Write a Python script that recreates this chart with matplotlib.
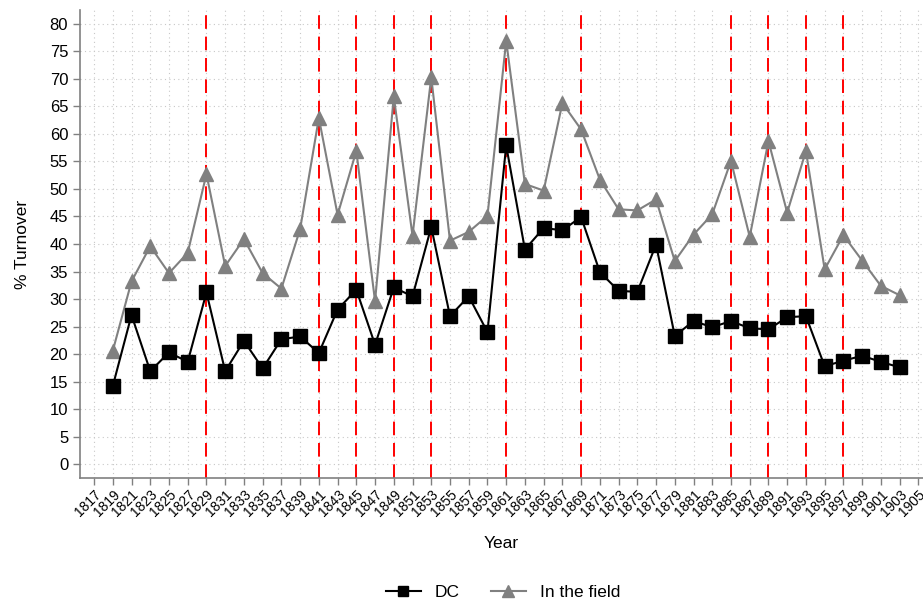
import numpy as np
import matplotlib
matplotlib.use("Agg")
import matplotlib.pyplot as plt

plt.rcParams['font.family'] = ['Liberation Sans', 'DejaVu Sans']

# turnover by election year
years = list(range(1819, 1904, 2))
dc = [14.2, 27.1, 16.9, 20.3, 18.6, 31.2, 16.9, 22.4, 17.4, 22.7,
      23.2, 20.2, 28.1, 31.7, 21.7, 32.1, 30.5, 43.1, 26.9, 30.5,
      24.0, 57.9, 39.0, 42.9, 42.5, 44.9, 34.9, 31.5, 31.3, 39.9,
      23.3, 26.0, 24.9, 26.0, 24.7, 24.5, 26.7, 26.9, 17.8, 18.8,
      19.7, 18.6, 17.6]
field = [20.6, 33.2, 39.6, 34.7, 38.4, 52.7, 36.0, 40.9, 34.7, 31.9,
         42.7, 62.9, 45.3, 56.9, 29.6, 66.8, 41.5, 70.3, 40.6, 42.2,
         45.1, 76.9, 50.9, 49.7, 65.6, 60.8, 51.7, 46.3, 46.1, 48.1,
         36.9, 41.7, 45.4, 55.1, 41.3, 58.7, 45.7, 56.9, 35.4, 41.6,
         37.0, 32.4, 30.7]
marked_years = [1829, 1841, 1845, 1849, 1853, 1861, 1869, 1885, 1889, 1893, 1897]

xticks = list(range(1817, 1906, 2))
yticks = list(range(0, 81, 5))

fig = plt.figure(figsize=(9.23, 6.02), dpi=100)
ax = fig.add_axes([80/923, 1 - 478/602, 843/923, 468/602])

for yr in marked_years:
    ax.axvline(yr, color='red', lw=1.4, dashes=(7, 4), zorder=1)

ax.plot(years, dc, color='black', lw=1.5, marker='s', ms=9.5,
        label='DC', zorder=3)
ax.plot(years, field, color='#808080', lw=1.5, marker='^', ms=10,
        label='In the field', zorder=2)

ax.set_xlim(1815.5, 1905.5)
ax.set_ylim(-2.5, 82.5)
ax.set_xticks(xticks)
ax.set_xticklabels([str(x) for x in xticks], rotation=45, ha='right',
                   rotation_mode='anchor', fontsize=10)
ax.set_yticks(yticks)
ax.set_yticklabels([str(y) for y in yticks], fontsize=12)
ax.tick_params(axis='both', colors='#808080', labelcolor='black',
               length=5, width=1)
ax.tick_params(axis='x', pad=2)

ax.grid(True, color='#c8c8c8', ls=(0, (1, 3)), lw=0.8)
ax.set_axisbelow(True)
for s in ['top', 'right']:
    ax.spines[s].set_visible(False)
for s in ['left', 'bottom']:
    ax.spines[s].set_color('#808080')
    ax.spines[s].set_linewidth(1.2)

ax.set_xlabel('Year', fontsize=12.5, labelpad=12)
ax.set_ylabel('% Turnover', fontsize=12.5, labelpad=14)

fig.legend(loc='lower center', bbox_to_anchor=(0.545, -0.022), ncol=2,
           frameon=False, fontsize=12.5, handlelength=2.0, columnspacing=1.8,
           markerscale=0.8)

fig.savefig('out.png', dpi=100)
